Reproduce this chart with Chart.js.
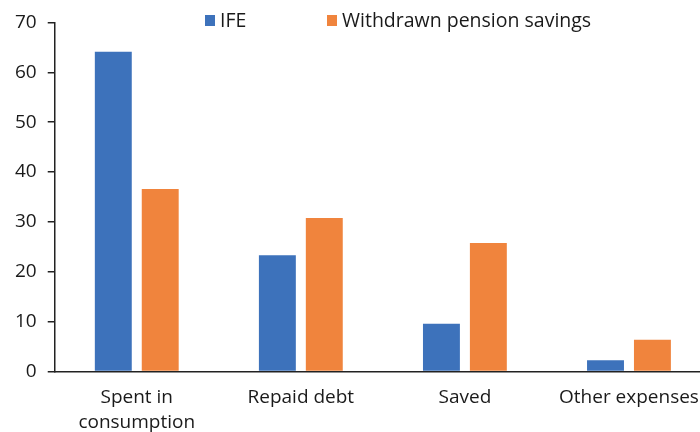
<!DOCTYPE html>
<html>
<head>
<meta charset="utf-8">
<script src="https://cdn.jsdelivr.net/npm/chart.js@4"></script>
<style>
  html, body { margin: 0; padding: 0; background: #fff; overflow: hidden; }
  /* plot runs a little past the right edge of the page */
  #wrap { width: 711px; height: 432px; }
</style>
</head>
<body>
<div id="wrap"><canvas id="myChart"></canvas></div>
<script>
const ctx = document.getElementById("myChart").getContext("2d");

// categories on the x axis
const labels = [["Spent in", "consumption"], "Repaid debt", "Saved", "Other expenses"];
// share of respondents (%)
const ifeValues = [64.1, 23.3, 9.6, 2.3];
const pensionValues = [36.6, 30.8, 25.8, 6.4];
const seriesNames = ["IFE", "Withdrawn pension savings"];
const yTicks = [0, 10, 20, 30, 40, 50, 60, 70];

const FONT = "'Open Sans', sans-serif";
const TEXT = "#1a1a1a";

// legend drawn by hand so the gap between the two entries can be wide
const topLegend = {
  id: "topLegend",
  afterDraw(chart) {
    const c = chart.ctx;
    const starts = [205, 327];
    c.save();
    c.font = "19.5px " + FONT;
    c.textBaseline = "middle";
    chart.data.datasets.forEach((ds, i) => {
      const x = starts[i];
      c.fillStyle = ds.backgroundColor;
      c.fillRect(x, 15, 10, 11);
      c.fillStyle = TEXT;
      c.fillText(ds.label, x + 15, 21);
    });
    c.restore();
  },
};

const data = {
  labels: labels,
  datasets: [
    {
      label: seriesNames[0],
      data: ifeValues,
      backgroundColor: "#3d72bb",
    },
    {
      label: seriesNames[1],
      data: pensionValues,
      backgroundColor: "#f0843d",
    },
  ],
};

const config = {
  type: "bar",
  data: data,
  plugins: [topLegend],
  options: {
    responsive: true,
    maintainAspectRatio: false,
    animation: false,
    categoryPercentage: 0.572,
    barPercentage: 0.787,
    layout: {
      padding: { top: 14, left: 4, right: 0, bottom: -9 },
    },
    plugins: {
      legend: { display: false },
      tooltip: { enabled: false },
    },
    scales: {
      x: {
        grid: { display: false },
        border: { display: true, color: "#222", width: 1.5 },
        ticks: {
          color: TEXT,
          font: { family: FONT, size: 19, lineHeight: 1.3 },
          padding: 6,
          maxRotation: 0,
          autoSkip: false,
        },
      },
      y: {
        min: 0,
        max: 70,
        afterBuildTicks: (axis) => {
          axis.ticks = yTicks.map((v) => ({ value: v }));
        },
        grid: {
          drawOnChartArea: false,
          drawTicks: true,
          tickLength: 7,
          color: "#222",
          lineWidth: 1.5,
        },
        border: { display: true, color: "#222", width: 1.5 },
        ticks: {
          color: TEXT,
          font: { family: FONT, size: 19 },
          padding: 11,
        },
      },
    },
  },
};

const myChart = new Chart(ctx, config);
</script>
</body>
</html>
